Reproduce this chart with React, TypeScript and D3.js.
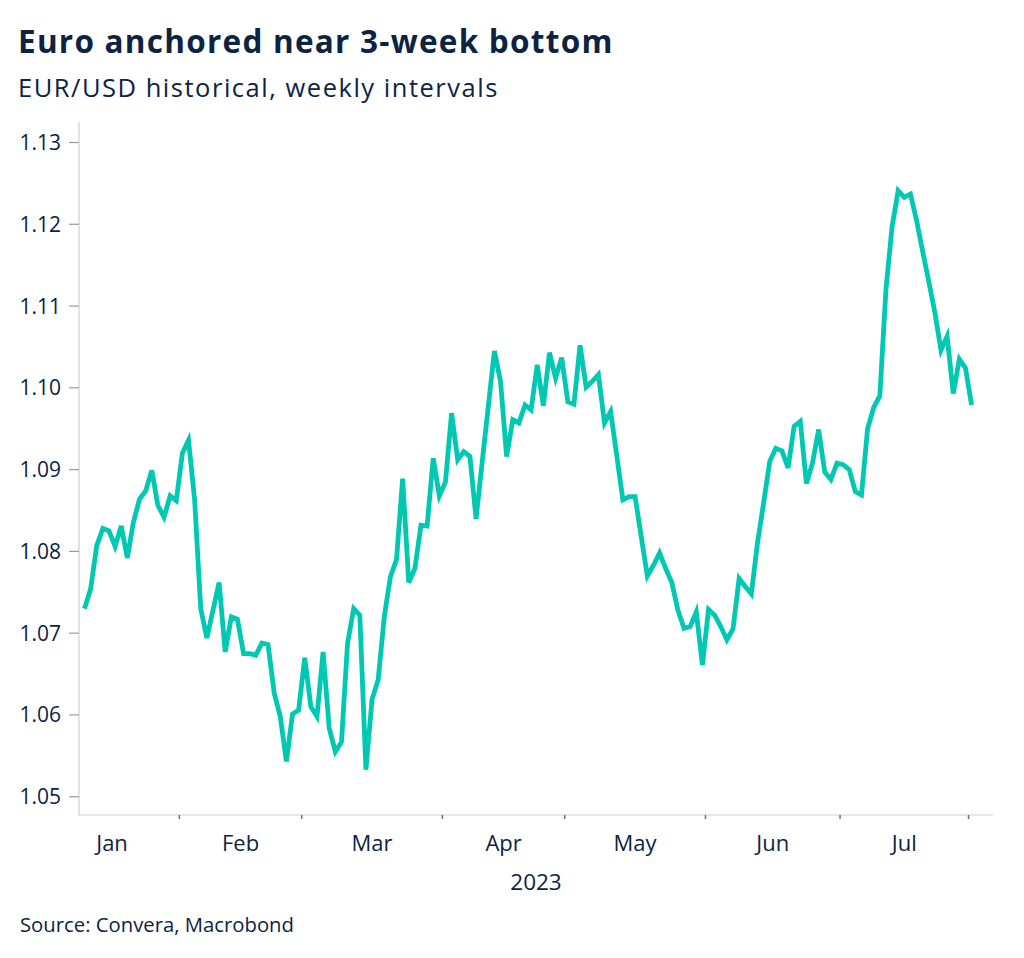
import React from "react";
import * as d3 from "d3";

// ---- data ----
const title = "Euro anchored near 3-week bottom";
const subtitle = "EUR/USD historical, weekly intervals";
const source = "Source: Convera, Macrobond";
const yearLabel = "2023";
const monthLabels = ["Jan", "Feb", "Mar", "Apr", "May", "Jun", "Jul"];
const yTicks = [1.05, 1.06, 1.07, 1.08, 1.09, 1.1, 1.11, 1.12, 1.13];
const firstDate = "2023-01-10";
const eurusd = [
  1.0730, 1.0754, 1.0807, 1.0828, 1.0825, 1.0806, 1.0831, 1.0792, 1.0836, 1.0864,
  1.0874, 1.0899, 1.0856, 1.0842, 1.0868, 1.0862, 1.0920, 1.0936, 1.0863, 1.0730,
  1.0694, 1.0728, 1.0762, 1.0677, 1.0720, 1.0717, 1.0675, 1.0675, 1.0673, 1.0688,
  1.0686, 1.0627, 1.0598, 1.0543, 1.0601, 1.0606, 1.0670, 1.0610, 1.0598, 1.0677,
  1.0584, 1.0555, 1.0567, 1.0688, 1.0730, 1.0722, 1.0533, 1.0619, 1.0643, 1.0720,
  1.0769, 1.0790, 1.0889, 1.0762, 1.0779, 1.0832, 1.0831, 1.0914, 1.0868, 1.0885,
  1.0969, 1.0912, 1.0922, 1.0916, 1.0840, 1.0909, 1.0977, 1.1045, 1.1008, 1.0916,
  1.0961, 1.0957, 1.0979, 1.0973, 1.1028, 1.0978, 1.1043, 1.1012, 1.1037, 1.0983,
  1.0980, 1.1052, 1.1001, 1.1008, 1.1016, 1.0957, 1.0971, 1.0917, 1.0863, 1.0867,
  1.0867, 1.0818, 1.0770, 1.0783, 1.0798, 1.0779, 1.0762, 1.0728, 1.0706, 1.0708,
  1.0726, 1.0661, 1.0729, 1.0722, 1.0708, 1.0692, 1.0705, 1.0767, 1.0757, 1.0748,
  1.0810, 1.0859, 1.0910, 1.0926, 1.0923, 1.0902, 1.0953, 1.0959, 1.0883, 1.0908,
  1.0949, 1.0897, 1.0888, 1.0908, 1.0906, 1.0900, 1.0873, 1.0869, 1.0950, 1.0976,
  1.0990, 1.1120, 1.1197, 1.1241, 1.1233, 1.1237, 1.1205, 1.1167, 1.1130, 1.1092,
  1.1046, 1.1063, 1.0993, 1.1035, 1.1024, 1.0979,
];

// ---- business-day calendar (trading-day axis) ----
function weekdays(from: Date, to: Date): Date[] {
  const out: Date[] = [];
  const d = new Date(from);
  while (d <= to) {
    const w = d.getDay();
    if (w !== 0 && w !== 6) out.push(new Date(d));
    d.setDate(d.getDate() + 1);
  }
  return out;
}
const days = weekdays(new Date(2023, 0, 2), new Date(2023, 7, 31));
const fmt = d3.timeFormat("%Y-%m-%d");
const startIdx = days.findIndex((d) => fmt(d) === firstDate);
const monthStarts: number[] = [];
days.forEach((d, i) => {
  if (i === 0 || d.getMonth() !== days[i - 1].getMonth()) monthStarts.push(i);
});

const W = 1024;
const H = 958;
const TEXT = "#0c2442";
const LINE = "#00c8b2";
const AXIS = "#cfcfcf";
const FONT = "'Open Sans', 'Noto Sans', sans-serif";

export default function App() {
  const plotLeft = 79;
  const plotRight = 993;
  const plotTop = 122;
  const plotBottom = 815;

  const x = d3.scaleLinear().domain([5.6, 155]).range([plotLeft, plotRight]);
  const y = d3.scaleLinear().domain([1.05, 1.13]).range([796.7, 142.5]);

  const pts = eurusd.map((v, k) => ({ i: startIdx + k, v }));
  const line = d3
    .line<{ i: number; v: number }>()
    .x((d) => x(d.i + 0.5))
    .y((d) => y(d.v))
    .curve(d3.curveLinear);

  const tickFmt = d3.format(".2f");

  return (
    <svg width={W} height={H} style={{ display: "block", position: "absolute", left: 0, top: 0 }}>
      <rect x={0} y={0} width={W} height={H} fill="#ffffff" />
      <text x={18} y={53} fontFamily={FONT} fontWeight={700} fontSize={31.5} letterSpacing={1.25} fill={TEXT}>
        {title}
      </text>
      <text x={18} y={97} fontFamily={FONT} fontSize={25.5} letterSpacing={1.52} fill={TEXT}>
        {subtitle}
      </text>

      {/* y axis */}
      <line x1={plotLeft} x2={plotLeft} y1={plotTop} y2={plotBottom} stroke={AXIS} strokeWidth={1.2} />
      {yTicks.map((t) => (
        <g key={t}>
          <line x1={plotLeft - 10} x2={plotLeft} y1={y(t)} y2={y(t)} stroke="#9a9a9a" strokeWidth={1.2} />
          <text
            x={61}
            y={y(t)}
            dy="0.36em"
            textAnchor="end"
            fontFamily={FONT}
            fontSize={21}
            fill={TEXT}
          >
            {tickFmt(t)}
          </text>
        </g>
      ))}

      {/* x axis */}
      <line x1={plotLeft} x2={plotRight} y1={plotBottom} y2={plotBottom} stroke={AXIS} strokeWidth={1.2} />
      {monthStarts.slice(1).map((i) => (
        <line key={i} x1={x(i)} x2={x(i)} y1={plotBottom} y2={plotBottom + 4} stroke="#707070" strokeWidth={1.5} />
      ))}
      {monthLabels.map((m, k) => {
        const a = monthStarts[k];
        const b = monthStarts[k + 1];
        return (
          <text
            key={m}
            x={x((a + b) / 2)}
            y={851}
            textAnchor="middle"
            fontFamily={FONT}
            fontSize={22}
            fill={TEXT}
          >
            {m}
          </text>
        );
      })}
      <text
        x={(plotLeft + plotRight) / 2}
        y={890}
        textAnchor="middle"
        fontFamily={FONT}
        fontSize={22.5}
        fill={TEXT}
      >
        {yearLabel}
      </text>

      <path d={line(pts) || ""} fill="none" stroke={LINE} strokeWidth={4.8} strokeLinejoin="miter" strokeLinecap="butt" />

      <text x={20} y={932} fontFamily={FONT} fontSize={20.3} fill={TEXT}>
        {source}
      </text>
    </svg>
  );
}
